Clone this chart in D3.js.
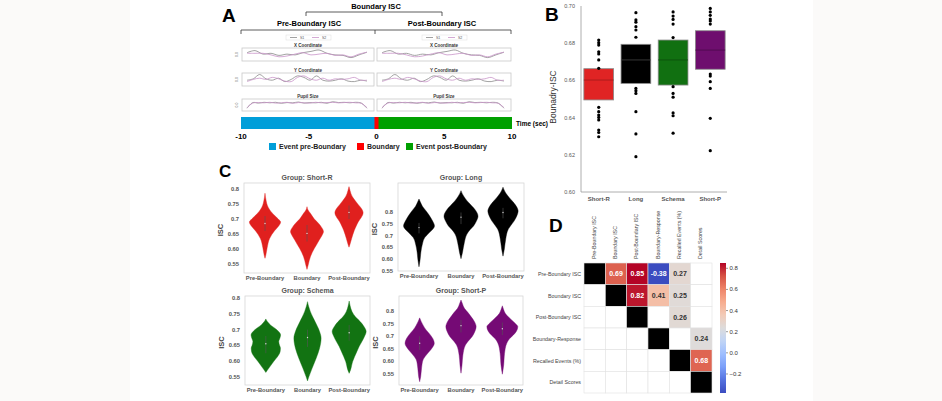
<!DOCTYPE html>
<html>
<head>
<meta charset="utf-8">
<title>Boundary ISC figure</title>
<script src="https://cdn.jsdelivr.net/npm/d3@7"></script>
<style>
  body { margin: 0; background: #fbfaf9; }
  svg text { font-family: "Liberation Sans", Arial, sans-serif; }
</style>
</head>
<body>
<script>
// ---------- data : panel A ----------
var timeTicks = [-10, -5, 0, 5, 10];
var eventLabels = ["Event pre-Boundary", "Boundary", "Event post-Boundary"];
var subjectNames = ["S1", "S2"];
var traceTitles = ["X Coordinate", "Y Coordinate", "Pupil Size"];
var xCoordS1 = [0.68, 0.89, 0.54, 0.62, 0.41, 0.54, 0.46, 0.68, 0.81, 0.95, 0.62, 0.46, 0.41, 0.19, 0.46, 0.73];
var xCoordS2 = [0.62, 0.62, 0.62, 0.46, 0.27, 0.35, 0.54, 0.68, 0.46, 0.54, 0.62, 0.41, 0.46, 0.27, 0.54, 0.73];
var yCoordS1 = [0.43, 0.57, 1.0, 0.57, 0.43, 0.63, 0.29, 0.51, 0.86, 0.71, 0.43, 0.86, 0.43, 0.34, 0.43, 0.57, 0.34, 0.29, 0.43, 0.34];
var yCoordS2 = [0.29, 0.51, 0.63, 0.51, 0.71, 0.57, 0.34, 0.29, 0.71, 0.86, 0.57, 0.43, 0.63, 0.43, 0.57, 0.51, 0.57, 0.71, 0.43, 0.43];
var pupilS1 = [0.14, 0.77, 0.71, 0.8, 0.74, 0.8, 0.69, 0.77, 0.74, 0.83, 0.71, 0.77, 0.74, 0.8, 0.69, 0.86, 0.77, 0.8, 0.74, 0.8, 0.71, 0.14];
var pupilS2 = [0.2, 0.71, 0.77, 0.74, 0.8, 0.71, 0.74, 0.8, 0.69, 0.77, 0.74, 0.71, 0.8, 0.74, 0.77, 0.8, 0.74, 0.77, 0.8, 0.74, 0.69, 0.2];

// ---------- data : panel B ----------
var groups = ["Short-R", "Long", "Schema", "Short-P"];
var boxQ1 = [0.6495, 0.6584, 0.6575, 0.6660];
var boxMedian = [0.6602, 0.6710, 0.6710, 0.6763];
var boxQ3 = [0.6663, 0.6794, 0.6817, 0.6867];
var pointsShortR = [0.6817, 0.6803, 0.6790, 0.6754, 0.6742, 0.6710, 0.6665, 0.6455, 0.6432, 0.6414, 0.6401, 0.6387, 0.6333, 0.6320, 0.6297];
var pointsLong = [0.6964, 0.6925, 0.6913, 0.6889, 0.6871, 0.6832, 0.6557, 0.6544, 0.6530, 0.6432, 0.6312, 0.6190];
var pointsSchema = [0.6968, 0.6946, 0.6928, 0.6903, 0.6830, 0.6566, 0.6530, 0.6510, 0.6425, 0.6410, 0.6316];
var pointsShortP = [0.6987, 0.6968, 0.6950, 0.6930, 0.6920, 0.6903, 0.6634, 0.6623, 0.6593, 0.6557, 0.6396, 0.6222];
var bTicks = [0.60, 0.62, 0.64, 0.66, 0.68, 0.70];

// ---------- data : panel C (violin profiles: [ISC, relative density]) ----------
var conditions = ["Pre-Boundary", "Boundary", "Post-Boundary"];
var cTicks = [0.8, 0.75, 0.7, 0.65, 0.6, 0.55];
var cTickLabels = ["0.8", "0.75", "0.7", "0.65", "0.60", "0.55"];
var shortRPre = [[0.786,0],[0.76,0.07],[0.745,0.14],[0.72,0.42],[0.70,0.78],[0.69,0.92],[0.675,0.78],[0.66,0.55],[0.635,0.27],[0.605,0.13],[0.58,0.05],[0.569,0]];
var shortRBound = [[0.741,0],[0.73,0.06],[0.719,0.2],[0.70,0.43],[0.686,0.67],[0.672,0.86],[0.658,0.97],[0.645,0.88],[0.63,0.72],[0.615,0.57],[0.602,0.43],[0.574,0.2],[0.547,0.07],[0.532,0]];
var shortRPost = [[0.808,0],[0.795,0.06],[0.774,0.2],[0.76,0.38],[0.747,0.56],[0.735,0.73],[0.721,0.83],[0.705,0.72],[0.691,0.55],[0.676,0.42],[0.662,0.31],[0.636,0.16],[0.614,0.05],[0.606,0]];
var longPre = [[0.858,0],[0.845,0.08],[0.827,0.2],[0.81,0.38],[0.792,0.56],[0.775,0.71],[0.763,0.8],[0.742,0.91],[0.721,0.72],[0.705,0.5],[0.693,0.35],[0.664,0.2],[0.629,0.11],[0.594,0.06],[0.566,0]];
var longBound = [[0.894,0],[0.88,0.08],[0.869,0.17],[0.85,0.36],[0.834,0.56],[0.81,0.85],[0.784,1],[0.762,0.9],[0.742,0.74],[0.725,0.52],[0.707,0.35],[0.672,0.2],[0.629,0.09],[0.601,0]];
var longPost = [[0.909,0],[0.895,0.08],[0.883,0.17],[0.865,0.36],[0.848,0.56],[0.825,0.8],[0.806,0.89],[0.785,0.81],[0.763,0.65],[0.745,0.47],[0.728,0.31],[0.686,0.16],[0.643,0.08],[0.612,0]];
var schemaPre = [[0.734,0],[0.725,0.1],[0.715,0.27],[0.699,0.66],[0.683,0.87],[0.672,0.82],[0.662,0.76],[0.651,0.8],[0.641,0.86],[0.63,0.84],[0.619,0.75],[0.598,0.45],[0.577,0.17],[0.564,0]];
var schemaBound = [[0.789,0],[0.775,0.06],[0.757,0.17],[0.74,0.31],[0.725,0.45],[0.694,0.71],[0.673,0.8],[0.641,0.71],[0.609,0.51],[0.577,0.27],[0.55,0.08],[0.537,0]];
var schemaPost = [[0.791,0],[0.775,0.06],[0.757,0.17],[0.74,0.38],[0.725,0.66],[0.71,0.87],[0.694,1],[0.678,0.9],[0.662,0.75],[0.646,0.58],[0.63,0.45],[0.598,0.2],[0.572,0.08],[0.561,0]];
var shortPPre = [[0.773,0],[0.76,0.08],[0.744,0.2],[0.725,0.38],[0.711,0.56],[0.69,0.78],[0.672,0.86],[0.655,0.75],[0.638,0.55],[0.62,0.33],[0.606,0.2],[0.573,0.11],[0.539,0.06],[0.519,0]];
var shortPBound = [[0.844,0],[0.83,0.08],[0.811,0.2],[0.795,0.4],[0.777,0.6],[0.757,0.8],[0.738,0.89],[0.718,0.81],[0.698,0.65],[0.68,0.42],[0.665,0.26],[0.625,0.11],[0.586,0.06],[0.553,0]];
var shortPPost = [[0.821,0],[0.805,0.08],[0.791,0.17],[0.775,0.38],[0.764,0.56],[0.75,0.78],[0.738,0.91],[0.72,0.83],[0.705,0.65],[0.69,0.42],[0.672,0.26],[0.632,0.13],[0.586,0.08],[0.549,0]];
// inner quartiles [q1, median, q3]
var innerShortR = [[0.66,0.685,0.71],[0.625,0.652,0.68],[0.70,0.722,0.745]];
var innerLong = [[0.71,0.735,0.755],[0.75,0.78,0.80],[0.775,0.80,0.82]];
var innerSchema = [[0.625,0.655,0.68],[0.645,0.675,0.70],[0.665,0.69,0.715]];
var innerShortP = [[0.645,0.672,0.70],[0.715,0.742,0.765],[0.705,0.73,0.755]];

// ---------- data : panel D ----------
var measures = ["Pre-Boundary ISC", "Boundary ISC", "Post-Boundary ISC", "Boundary-Response", "Recalled Events (%)", "Detail Scores"];
var corrMatrix = [
  [1, 0.69, 0.85, -0.38, 0.27, null],
  [null, 1, 0.82, 0.41, 0.25, null],
  [null, null, 1, null, 0.26, null],
  [null, null, null, 1, null, 0.24],
  [null, null, null, null, 1, 0.68],
  [null, null, null, null, null, 1]
];
var cbarTicks = [-0.2, 0.0, 0.2, 0.4, 0.6, 0.8];
var coolwarm = ["#3b4cc0","#5572df","#7b9ff9","#9ebeff","#c0d4f5","#dddcdc","#f2cbb7","#f7ac8e","#ee8468","#d65244","#b40426"];

// ---------- svg ----------
var svg = d3.select("body").append("svg").attr("width", 942).attr("height", 401);
svg.append("rect").attr("x", 130).attr("y", 0).attr("width", 683).attr("height", 401).attr("fill", "#ffffff");

function panelLetter(t, x, y, size) {
  svg.append("text").attr("x", x).attr("y", y).text(t)
    .attr("font-size", size).attr("font-weight", "bold").attr("fill", "#000");
}

// ================= Panel A =================
panelLetter("A", 222, 22, 19);
var gA = svg.append("g").style("font-family", "'Open Sans', sans-serif");
gA.append("text").attr("x", 376).attr("y", 9).attr("text-anchor", "middle")
  .attr("font-size", 7.5).attr("font-weight", "bold").text("Boundary ISC");
gA.append("path").attr("d", "M306,16V12H442V16").attr("fill", "none").attr("stroke", "#333").attr("stroke-width", 0.8);
gA.append("text").attr("x", 309).attr("y", 26).attr("text-anchor", "middle")
  .attr("font-size", 7.5).attr("font-weight", "bold").text("Pre-Boundary ISC");
gA.append("text").attr("x", 442).attr("y", 26).attr("text-anchor", "middle")
  .attr("font-size", 7.5).attr("font-weight", "bold").text("Post-Boundary ISC");
gA.append("path").attr("d", "M241,34V30H511V34M375,30V34").attr("fill", "none").attr("stroke", "#333").attr("stroke-width", 0.8);

var traceSets = [[xCoordS1, xCoordS2], [yCoordS1, yCoordS2], [pupilS1, pupilS2]];
var traceRows = [[48, 61], [73, 86], [99, 111]];
var traceColors = ["#8a8a8a", "#c994c9"];
[[242, 374], [377, 511]].forEach(function (span) {
  var lg = gA.append("g");
  var lx = (span[0] + span[1]) / 2 - 22;
  lg.append("rect").attr("x", lx).attr("y", 35).attr("width", 45).attr("height", 5)
    .attr("fill", "#fff").attr("stroke", "#ddd").attr("stroke-width", 0.5);
  subjectNames.forEach(function (s, i) {
    lg.append("line").attr("x1", lx + 4 + i * 22).attr("x2", lx + 11 + i * 22).attr("y1", 37.5).attr("y2", 37.5)
      .attr("stroke", traceColors[i]).attr("stroke-width", 0.8);
    lg.append("text").attr("x", lx + 14 + i * 22).attr("y", 39).attr("font-size", 3.5).attr("fill", "#555").text(s);
  });
  traceTitles.forEach(function (title, r) {
    var top = traceRows[r][0], bot = traceRows[r][1];
    gA.append("text").attr("x", (span[0] + span[1]) / 2).attr("y", top - 1.5).attr("text-anchor", "middle")
      .attr("font-size", 4.5).attr("font-weight", "600").attr("fill", "#333").text(title);
    gA.append("rect").attr("x", span[0]).attr("y", top).attr("width", span[1] - span[0]).attr("height", bot - top)
      .attr("fill", "#fff").attr("stroke", "#c8c8c8").attr("stroke-width", 0.8);
    if (span[0] < 300) {
      gA.append("text").attr("transform", "translate(" + (span[0] - 4) + "," + ((top + bot) / 2) + ") rotate(-90)")
        .attr("text-anchor", "middle").attr("font-size", 3.5).attr("fill", "#666").text("0.0");
    }
    traceSets[r].forEach(function (vals, k) {
      var tx = d3.scaleLinear().domain([0, vals.length - 1]).range([span[0] + 5, span[1] - 7]);
      var ty = d3.scaleLinear().domain([0, 1]).range([bot - 1.5, top + 1.5]);
      gA.append("path").datum(vals)
        .attr("d", d3.line().x(function (d, i) { return tx(i); }).y(function (d) { return ty(d); }).curve(d3.curveCatmullRom))
        .attr("fill", "none").attr("stroke", traceColors[k]).attr("stroke-width", 0.8);
    });
  });
});

var tScale = d3.scaleLinear().domain([-10, 10]).range([241, 512]);
gA.append("rect").attr("x", tScale(-10)).attr("y", 117).attr("width", tScale(0) - tScale(-10)).attr("height", 12).attr("fill", "#009ed9");
gA.append("rect").attr("x", tScale(0)).attr("y", 117).attr("width", tScale(10) - tScale(0)).attr("height", 12).attr("fill", "#00a000");
gA.append("rect").attr("x", tScale(-0.15)).attr("y", 117).attr("width", tScale(0.15) - tScale(-0.15)).attr("height", 12).attr("fill", "#ff0000");
gA.selectAll(".tt").data(timeTicks).enter().append("text")
  .attr("x", function (d) { return tScale(d); }).attr("y", 139).attr("text-anchor", "middle")
  .attr("font-size", 8).attr("font-weight", "bold").text(function (d) { return d; });
gA.append("text").attr("x", 516).attr("y", 126).attr("font-size", 6.5).attr("font-weight", "bold").text("Time (sec)");
var legendColors = ["#009ed9", "#ff0000", "#00a000"];
var legendX = [269, 357, 406];
eventLabels.forEach(function (t, i) {
  gA.append("rect").attr("x", legendX[i]).attr("y", 143).attr("width", 7).attr("height", 7).attr("fill", legendColors[i]);
  gA.append("text").attr("x", legendX[i] + 10).attr("y", 149).attr("font-size", 7).attr("font-weight", "bold")
    .attr("fill", "#222").text(t);
});

// ================= Panel B =================
panelLetter("B", 545, 21, 19);
var bx = d3.scaleBand().domain(groups).range([582, 727]).paddingInner(0.2).paddingOuter(0.05);
var by = d3.scaleLinear().domain([0.60, 0.70]).range([192, 6]);
var bColors = ["#e02424", "#000000", "#117011", "#6e0e6e"];
var bMedColors = ["#9e1a1a", "#444444", "#0b4a0b", "#4a0a4a"];
var bPoints = [pointsShortR, pointsLong, pointsSchema, pointsShortP];
var gB = svg.append("g");
gB.append("line").attr("x1", 581).attr("x2", 581).attr("y1", 6).attr("y2", 192).attr("stroke", "#999").attr("stroke-width", 0.8);
gB.append("line").attr("x1", 581).attr("x2", 727).attr("y1", 192).attr("y2", 192).attr("stroke", "#999").attr("stroke-width", 0.8);
gB.selectAll(".bt").data(bTicks).enter().append("text")
  .attr("x", 575).attr("y", function (d) { return by(d) + 2; }).attr("text-anchor", "end")
  .attr("font-size", 5.5).attr("fill", "#555").text(function (d) { return d.toFixed(2); });
gB.append("text").attr("transform", "translate(556,97) rotate(-90)").attr("text-anchor", "middle")
  .attr("font-size", 8.5).attr("fill", "#333").text("Bounadry-ISC");
groups.forEach(function (g, i) {
  var x0 = bx(g), w = bx.bandwidth();
  gB.append("rect").attr("x", x0).attr("y", by(boxQ3[i])).attr("width", w).attr("height", by(boxQ1[i]) - by(boxQ3[i]))
    .attr("fill", bColors[i]).attr("stroke", "#8a8a8a").attr("stroke-width", 0.8);
  gB.append("line").attr("x1", x0).attr("x2", x0 + w).attr("y1", by(boxMedian[i])).attr("y2", by(boxMedian[i]))
    .attr("stroke", bMedColors[i]).attr("stroke-width", 0.8);
  gB.selectAll(".p" + i).data(bPoints[i]).enter().append("circle")
    .attr("cx", x0 + w / 2).attr("cy", function (d) { return by(d); }).attr("r", 1.6).attr("fill", "#000");
  gB.append("text").attr("x", x0 + w / 2).attr("y", 201).attr("text-anchor", "middle")
    .attr("font-size", 6).attr("font-weight", "bold").attr("fill", "#555").text(g);
});

// ================= Panel C =================
panelLetter("C", 219, 177, 17);
var halfWidth = d3.scaleLinear().domain([0, 1]).range([0, 17]);
function violinPanel(frame, title, color, profiles, inner, domain) {
  var g = svg.append("g");
  var x = d3.scaleBand().domain(conditions).range([frame.x0, frame.x1]);
  var y = d3.scaleLinear().domain(domain).range([frame.y1, frame.y0]);
  g.append("rect").attr("x", frame.x0).attr("y", frame.y0).attr("width", frame.x1 - frame.x0).attr("height", frame.y1 - frame.y0)
    .attr("fill", "#fff").attr("stroke", "#d6d6d6").attr("stroke-width", 0.8);
  g.append("text").attr("x", (frame.x0 + frame.x1) / 2).attr("y", frame.y0 - 3).attr("text-anchor", "middle")
    .attr("font-size", 7).attr("font-weight", "bold").attr("fill", "#555").text(title);
  cTicks.forEach(function (t, i) {
    g.append("text").attr("x", frame.x0 - 5).attr("y", y(t) + 2).attr("text-anchor", "end")
      .attr("font-size", 5.8).attr("font-weight", "bold").attr("fill", "#555").text(cTickLabels[i]);
  });
  g.append("text").attr("transform", "translate(" + (frame.x0 - 21) + "," + ((frame.y0 + frame.y1) / 2 + 2) + ") rotate(-90)")
    .attr("text-anchor", "middle").attr("font-size", 7.5).attr("font-weight", "bold").attr("fill", "#444").text("ISC");
  conditions.forEach(function (c, i) {
    var cx = x(c) + x.bandwidth() / 2;
    var area = d3.area().y(function (d) { return y(d[0]); })
      .x0(function (d) { return cx - halfWidth(d[1]); })
      .x1(function (d) { return cx + halfWidth(d[1]); })
      .curve(d3.curveMonotoneY);
    g.append("path").datum(profiles[i].slice().reverse()).attr("d", area).attr("fill", color).attr("stroke", color).attr("stroke-width", 0.4);
    g.append("line").attr("x1", cx).attr("x2", cx).attr("y1", y(inner[i][0])).attr("y2", y(inner[i][2]))
      .attr("stroke", "#555").attr("stroke-opacity", 0.6).attr("stroke-width", 1);
    g.append("circle").attr("cx", cx).attr("cy", y(inner[i][1])).attr("r", 0.7).attr("fill", "#fff").attr("fill-opacity", 0.8);
    g.append("text").attr("x", cx).attr("y", frame.y1 + 7).attr("text-anchor", "middle")
      .attr("font-size", 5.8).attr("font-weight", "bold").attr("fill", "#555").text(c);
  });
}
violinPanel({x0: 244, x1: 370, y0: 183, y1: 273}, "Group: Short-R", "#e0201e", [shortRPre, shortRBound, shortRPost], innerShortR, [0.52, 0.82]);
violinPanel({x0: 398, x1: 524, y0: 183, y1: 271}, "Group: Long", "#000000", [longPre, longBound, longPost], innerLong, [0.548, 0.927]);
violinPanel({x0: 245, x1: 370, y0: 296, y1: 385}, "Group: Schema", "#127312", [schemaPre, schemaBound, schemaPost], innerSchema, [0.524, 0.807]);
violinPanel({x0: 399, x1: 523, y0: 296, y1: 385}, "Group: Short-P", "#750a75", [shortPPre, shortPBound, shortPPost], innerShortP, [0.506, 0.86]);

// ================= Panel D =================
panelLetter("D", 549, 232, 19);
var gD = svg.append("g");
var vmin = -0.38, vmax = 0.85;
var cmap = d3.piecewise(d3.interpolateRgb, coolwarm);
var color = function (v) { return cmap((v - vmin) / (vmax - vmin)); };
var dx = d3.scaleBand().domain(d3.range(measures.length)).range([584, 712]);
var dy = d3.scaleBand().domain(d3.range(measures.length)).range([263, 393]);
corrMatrix.forEach(function (row, r) {
  row.forEach(function (v, c) {
    var fill = r === c ? "#000" : (v === null ? "#fff" : color(v));
    gD.append("rect").attr("x", dx(c)).attr("y", dy(r)).attr("width", dx.bandwidth()).attr("height", dy.bandwidth())
      .attr("fill", fill).attr("stroke", "#e2e2e2").attr("stroke-width", 0.6);
    if (v !== null && r !== c) {
      gD.append("text").attr("x", dx(c) + dx.bandwidth() / 2).attr("y", dy(r) + dy.bandwidth() / 2 + 2.5)
        .attr("text-anchor", "middle").attr("font-size", 7).attr("font-weight", "bold")
        .attr("fill", d3.lab(color(v)).l < 62 ? "#fff" : "#333").text(v.toFixed(2));
    }
  });
});
measures.forEach(function (m, i) {
  gD.append("text").attr("x", 581).attr("y", dy(i) + dy.bandwidth() / 2 + 2).attr("text-anchor", "end")
    .attr("font-size", 5.3).attr("fill", "#444").text(m);
  gD.append("text").attr("transform", "translate(" + (dx(i) + dx.bandwidth() / 2 + 1) + ",259) rotate(-90)")
    .attr("text-anchor", "start").attr("font-size", 5.3).attr("fill", "#444").text(m);
});
var grad = svg.append("defs").append("linearGradient").attr("id", "cw").attr("x1", 0).attr("x2", 0).attr("y1", 1).attr("y2", 0);
coolwarm.forEach(function (c, i) {
  grad.append("stop").attr("offset", i / (coolwarm.length - 1)).attr("stop-color", c);
});
var cy = d3.scaleLinear().domain([vmin, vmax]).range([393, 263]);
gD.append("rect").attr("x", 720).attr("y", 263).attr("width", 6).attr("height", 130).attr("fill", "url(#cw)");
cbarTicks.forEach(function (t) {
  gD.append("line").attr("x1", 726).attr("x2", 728).attr("y1", cy(t)).attr("y2", cy(t)).attr("stroke", "#333").attr("stroke-width", 0.5);
  gD.append("text").attr("x", 729.5).attr("y", cy(t) + 2).attr("font-size", 6).attr("fill", "#333")
    .text(t < 0 ? "\u2212" + Math.abs(t).toFixed(1) : t.toFixed(1));
});
</script>
</body>
</html>
